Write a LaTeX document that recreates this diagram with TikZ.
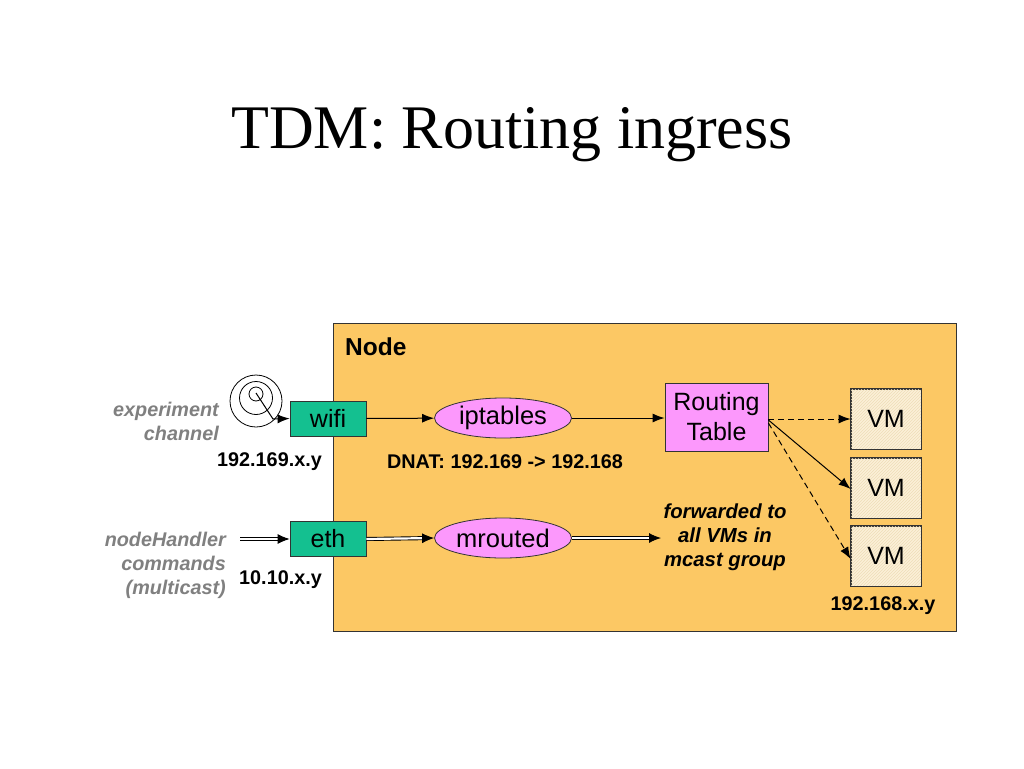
\documentclass[tikz,border=0pt]{standalone}
\usepackage{fontspec}
\setmainfont{Liberation Serif}
\setsansfont{Liberation Sans}
\usetikzlibrary{arrows.meta,shapes.geometric,patterns}
\definecolor{nodebg}{HTML}{FCC864}
\definecolor{ifgreen}{HTML}{14C090}
\definecolor{pinkf}{HTML}{FC98FC}
\definecolor{vmcream}{HTML}{FCF0D8}
\definecolor{vmhatch}{HTML}{EEDDB8}
\definecolor{greytxt}{HTML}{808080}
\tikzset{
  ifbox/.style={draw=black!80, fill=ifgreen, line width=0.8pt, minimum width=76pt, minimum height=35pt, inner sep=0pt, font=\sffamily\fontsize{25}{28}\selectfont},
  proc/.style={ellipse, draw=black!80, fill=pinkf, line width=0.8pt, minimum width=137pt, minimum height=40pt, inner sep=0pt, font=\sffamily\fontsize{25.5}{28}\selectfont},
  rtbox/.style={draw=black!80, fill=pinkf, line width=0.8pt, minimum width=103pt, minimum height=68pt, inner sep=0pt, align=center, font=\sffamily\fontsize{25}{30}\selectfont},
  vmbox/.style={draw=black!80, fill=vmcream, line width=0.8pt, minimum width=70pt, minimum height=60pt, inner sep=0pt},
  lbl/.style={font=\sffamily\bfseries\fontsize{19.8}{23}\selectfont, inner sep=0pt},
  greylbl/.style={font=\sffamily\bfseries\itshape\fontsize{19.8}{24}\selectfont, text=greytxt, align=right, inner sep=0pt},
  sarrow/.style={line width=1pt, -{Latex[length=12pt,width=9pt]}},
  dsh/.style={dash pattern=on 6pt off 4pt},
  darrow/.style={line width=0.9pt, double, double distance=2.2pt, -{Latex[length=12pt,width=10pt]}},
}
\begin{document}
\begin{tikzpicture}[x=1pt,y=-1pt]
\useasboundingbox (0,0) rectangle (1024,768);
\fill[white] (0,0) rectangle (1024,768);
% title
\node (title) at (512,135) {\fontsize{62}{70}\selectfont TDM: Routing ingress};
% node container
\node[draw=black!80, fill=nodebg, line width=0.8pt, minimum width=623pt, minimum height=308pt, inner sep=0pt, anchor=north west] (nodebox) at (333,323) {};
\node[anchor=west, inner sep=0pt, font=\sffamily\bfseries\fontsize{24.5}{28}\selectfont] (nodelbl) at (345,347) {Node};
% interfaces
\node[ifbox] (wifi) at (328,418.5) {wifi};
\node[ifbox] (eth) at (328,539) {eth};
% processes
\node[proc] (ipt) at (503,418) {iptables};
\node[proc] (mr) at (503,538) {mrouted};
% routing table
\node[rtbox] (rt) at (716.5,417) {Routing\\Table};
% VMs
\foreach \n/\y in {1/419,2/488,3/556}{
  \node[vmbox] (vm\n) at (886,\y) {};
  \fill[pattern=north east lines, pattern color=vmhatch] (vm\n.south west) rectangle (vm\n.north east);
  \draw[black!80, line width=0.8pt] (vm\n.south west) rectangle (vm\n.north east);
  \node[font=\sffamily\fontsize{25}{28}\selectfont] at (vm\n) {VM};
}
% labels
\node[lbl, anchor=east] (ip1) at (322,462) {192.169.x.y};
\node[lbl, anchor=east] (ip2) at (322,580) {10.10.x.y};
\node[lbl] (dnat) at (505,462) {DNAT: 192.169 -> 192.168};
\node[lbl] (ip3) at (883,606) {192.168.x.y};
\node[greylbl, anchor=east] (exp) at (219,421) {experiment\\channel};
\node[greylbl, anchor=east] (nh) at (226,565) {nodeHandler\\commands\\(multicast)};
\node[font=\sffamily\bfseries\itshape\fontsize{20.3}{24}\selectfont, align=center, inner sep=0pt] (fwd) at (725,537) {forwarded to\\all VMs in\\mcast group};
% antenna
\draw[line width=0.8pt] (256,401) circle (26);
\draw[line width=0.8pt] (256,398) circle (16.5);
\draw[line width=0.8pt] (256,394) circle (7);
\coordinate (ant) at (256,393);
\coordinate (antbend) at (273,419);
\draw[sarrow] (ant) -- (antbend) -- (wifi.west);
% arrows
\draw[sarrow] (wifi) -- (ipt);
\draw[sarrow] (ipt) -- (ipt -| rt.west);
\draw[sarrow, dsh] (rt.east |- vm1) -- (vm1.west);
\draw[sarrow] ([yshift=-3pt]rt.east) -- ([yshift=-1pt]vm2.west);
\draw[sarrow, dsh] ([yshift=-6pt]rt.east) -- ([yshift=-3pt]vm3.west);
\coordinate (nhin) at (240,539);
\coordinate (fwdin) at (661,538);
\draw[darrow] (nhin) -- (eth.west);
\draw[darrow] (eth.east) -- (mr.west);
\draw[darrow] (mr.east) -- (fwdin);
\end{tikzpicture}
\end{document}
